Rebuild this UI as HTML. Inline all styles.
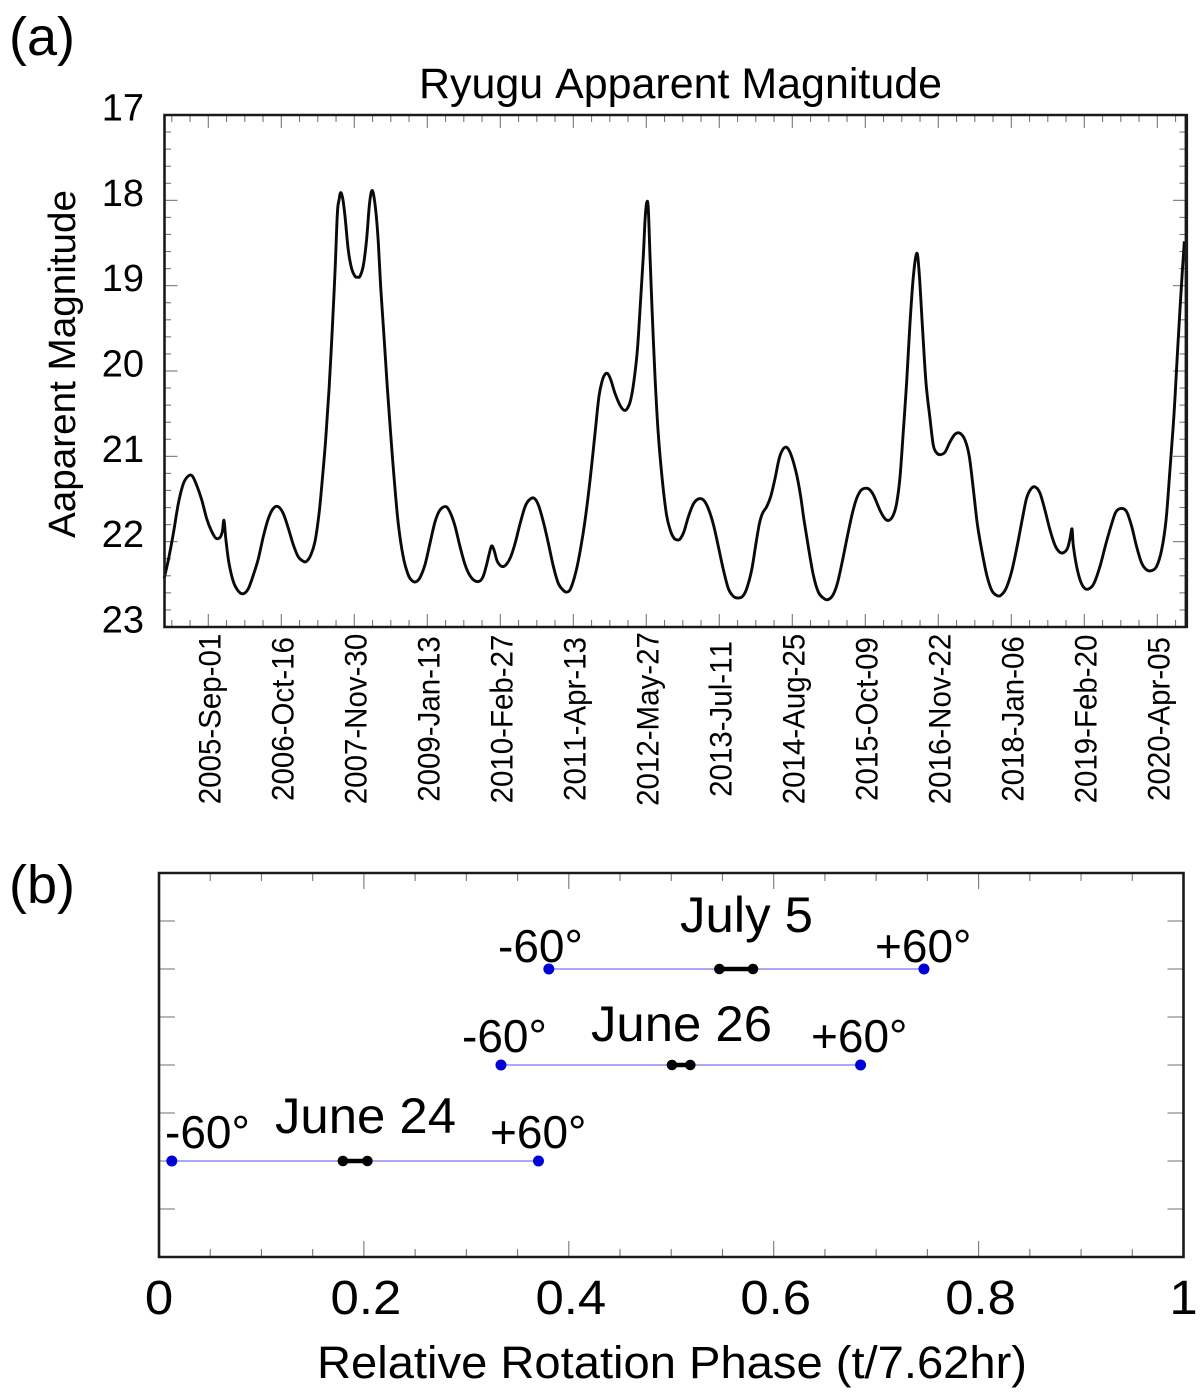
<!DOCTYPE html>
<html lang="en">
<head>
<meta charset="utf-8">
<title>Ryugu Apparent Magnitude</title>
<style>
  html, body { margin: 0; padding: 0; background: #fff; }
  body { width: 1200px; height: 1399px; overflow: hidden; }
  svg { display: block; }
  text { font-family: "Liberation Sans", Arial, sans-serif; fill: #000; font-kerning: none; }
</style>
</head>
<body>
<svg id="figure" xmlns="http://www.w3.org/2000/svg" width="1200" height="1399" viewBox="0 0 1200 1399">
  <rect x="0" y="0" width="1200" height="1399" fill="#fff"/>

  <text x="9" y="55" font-size="54">(a)</text>
  <text x="419" y="98" font-size="43" textLength="523" lengthAdjust="spacingAndGlyphs">Ryugu Apparent Magnitude</text>
  <text transform="translate(75,538) rotate(-90)" x="0" y="0" font-size="38" textLength="348" lengthAdjust="spacingAndGlyphs">Aaparent Magnitude</text>
  <g id="panel-a"></g>

  <text x="9" y="903" font-size="54">(b)</text>
  <g id="panel-b"></g>

  <text x="680" y="932" font-size="50" textLength="133" lengthAdjust="spacingAndGlyphs">July 5</text>
  <text x="591" y="1041" font-size="50" textLength="181" lengthAdjust="spacingAndGlyphs">June 26</text>
  <text x="275" y="1133" font-size="50" textLength="181" lengthAdjust="spacingAndGlyphs">June 24</text>

  <text x="498" y="962" font-size="46">-60°</text>
  <text x="875" y="962" font-size="46">+60°</text>
  <text x="462" y="1052" font-size="46">-60°</text>
  <text x="811" y="1052" font-size="46">+60°</text>
  <text x="165" y="1148" font-size="46">-60°</text>
  <text x="490" y="1148" font-size="46">+60°</text>

  <text x="317" y="1378" font-size="45" textLength="710" lengthAdjust="spacingAndGlyphs">Relative Rotation Phase (t/7.62hr)</text>
</svg>

<script>
// ---------- Panel (a) data ----------
const dateTickLabels = ["2005-Sep-01","2006-Oct-16","2007-Nov-30","2009-Jan-13","2010-Feb-27","2011-Apr-13","2012-May-27","2013-Jul-11","2014-Aug-25","2015-Oct-09","2016-Nov-22","2018-Jan-06","2019-Feb-20","2020-Apr-05"];
const magnitudeTicks = [17,18,19,20,21,22,23];
// days elapsed since 2005-Sep-01
const days = [
-248,-224,-196,-168,-140,-112,-90,-65,-37,-9,19,43,66,79,88,99,116,141,169,197,225,253,281,309,337,365,393,421,449,478,506,534,552,575,599,622,640,659,678,697,712,725,734,743,755,768,786,805,824,837,852,871,889,904,916,927,942,955,968,987,1005,1024,1043,1067,1095,1123,1146,1166,
1189,1217,1245,1273,1301,1335,1361,1386,1414,1442,1470,1498,1526,1545,1563,1578,1591,1605,1623,1648,1672,1698,1723,1751,1779,1803,1829,1854,1882,1910,1938,1966,1994,2013,2035,2065,2091,2116,2144,2172,2194,2213,2228,2243,2260,2284,2312,2335,2353,2372,2391,2410,2428,2443,2453,2462,2471,2481,2494,2509,2527,2550,2574,2597,2616,2634,
2649,2672,2696,2724,2752,2780,2808,2837,2865,2893,2921,2949,2977,3001,3024,3052,3076,3095,3112,3136,3159,3183,3207,3230,3252,3276,3305,3327,3346,3370,3398,3426,3454,3479,3507,3533,3561,3589,3617,3642,3670,3707,3735,3772,3800,3823,3847,3866,3885,3904,3922,3941,3960,3979,3993,4012,4031,4053,
4072,4091,4113,4138,4166,4194,4222,4250,4274,4297,4319,4344,4372,4400,4428,4450,4480,4512,4544,4574,4596,4621,4645,4671,4699,4727,4755,4780,4802,4825,4840,4851,4858,4877,4900,4924,4948,4974,5008,5042,5074,5098,5130,5158,5186,5214,5242,5270,5298,5326,5354,5379,5401,5424,5442,5457,5471,5482
];
const magnitudes = [
22.43,22.21,21.90,21.55,21.32,21.23,21.23,21.34,21.51,21.73,21.88,21.96,21.95,21.88,21.75,21.98,22.25,22.47,22.58,22.61,22.55,22.39,22.20,21.94,21.73,21.61,21.59,21.67,21.84,22.04,22.18,22.23,22.23,22.16,22.00,21.67,21.28,20.81,20.22,19.48,18.82,18.15,18.00,17.91,17.98,18.19,18.58,18.80,18.89,18.90,18.89,18.76,18.46,18.07,17.90,17.92,18.15,18.50,19.01,19.60,20.18,20.73,21.24,21.79,22.18,22.39,22.46,22.47,
22.42,22.27,22.02,21.77,21.63,21.59,21.67,21.82,22.06,22.27,22.40,22.46,22.46,22.40,22.27,22.14,22.05,22.10,22.23,22.29,22.27,22.18,22.02,21.79,21.59,21.51,21.49,21.57,21.77,22.02,22.29,22.49,22.57,22.59,22.55,22.35,22.08,21.75,21.28,20.73,20.30,20.11,20.04,20.03,20.10,20.26,20.40,20.46,20.44,20.34,20.11,19.75,19.17,18.66,18.23,18.03,18.09,18.66,19.36,20.07,20.73,21.28,21.69,21.88,21.96,21.98,
21.97,21.88,21.71,21.56,21.50,21.51,21.61,21.80,22.06,22.33,22.55,22.64,22.66,22.64,22.55,22.33,22.02,21.79,21.67,21.59,21.47,21.26,21.02,20.91,20.90,21.00,21.22,21.47,21.75,22.06,22.39,22.59,22.66,22.68,22.63,22.49,22.23,21.94,21.67,21.49,21.39,21.38,21.45,21.63,21.73,21.75,21.69,21.55,21.24,20.69,20.14,19.44,18.89,18.62,18.86,19.52,20.14,20.55,
20.87,20.96,20.98,20.95,20.83,20.74,20.73,20.81,21.00,21.39,21.79,22.10,22.39,22.57,22.63,22.63,22.55,22.35,22.04,21.71,21.49,21.38,21.36,21.43,21.63,21.86,22.04,22.12,22.13,22.08,21.96,21.85,22.04,22.29,22.47,22.55,22.55,22.49,22.29,22.02,21.79,21.65,21.61,21.65,21.82,22.06,22.25,22.33,22.34,22.29,22.10,21.75,21.16,20.50,19.83,19.29,18.82,18.48
];

// ---------- Panel (b) data ----------
const phaseTicks = [0,0.2,0.4,0.6,0.8,1];
const observationNames = ["june-24","june-26","july-5"];
const observationRows = [2,4,6];
const minus60Phase = [0.0125,0.3338,0.3805];
const plus60Phase = [0.3704,0.6848,0.7467];
const coverageStart = [0.1795,0.5007,0.547];
const coverageEnd = [0.2034,0.5186,0.5798];

// ---------- Helpers ----------
const NS = "http://www.w3.org/2000/svg";
function mk(tag, attrs, parent) {
  const el = document.createElementNS(NS, tag);
  for (const k in attrs) el.setAttribute(k, attrs[k]);
  parent.appendChild(el);
  return el;
}

// ---------- Panel (a) geometry ----------
const A = { left: 164.5, right: 1186, top: 115, bottom: 627 };
const dayStep = 410;
const xDay = d => 208.3 + d * 73.0 / dayStep;
const yMag = m => A.top + (m - 17) * (A.bottom - A.top) / 6;
const gA = document.getElementById("panel-a");
const TICK = "#777";

for (let k = -2; k <= 53; k++) {
  const px = xDay(k * dayStep / 4);
  const len = k % 4 === 0 ? 13 : 7;
  const top = mk("line", { x1: px, x2: px, y1: A.top, y2: A.top + len, stroke: TICK, "stroke-width": 1.1 }, gA);
  
  
  const bot = mk("line", { x1: px, x2: px, y1: A.bottom, y2: A.bottom - len, stroke: TICK, "stroke-width": 1.1 }, gA);
  
  
}
for (let k = 1; k < 30; k++) {
  const py = yMag(17 + k * 0.2);
  const len = k % 5 === 0 ? 13 : 6.5;
  const l = mk("line", { x1: A.left, x2: A.left + len, y1: py, y2: py, stroke: TICK, "stroke-width": 1.1 }, gA);
  
  
  const r = mk("line", { x1: A.right, x2: A.right - len, y1: py, y2: py, stroke: TICK, "stroke-width": 1.1 }, gA);
  
  
}

magnitudeTicks.forEach(m => {
  const t = mk("text", { x: 144, y: yMag(m) + 5.5, "text-anchor": "end", "font-size": 38 }, gA);
  t.textContent = String(m);
  
  
});
dateTickLabels.forEach((lab, i) => {
  const px = xDay(i * dayStep) + 12;
  const t = mk("text", { transform: "translate(" + px + ",719) rotate(-90) scale(1,1.08)", "text-anchor": "middle", "font-size": 29.5 }, gA);
  t.textContent = lab;
  
  
});

// Smooth curve through the read-off points (Catmull-Rom to Bezier)
function smoothPath(xs, ys) {
  let d = "M" + xs[0].toFixed(2) + " " + ys[0].toFixed(2);
  for (let i = 0; i < xs.length - 1; i++) {
    const p0 = Math.max(i - 1, 0), p3 = Math.min(i + 2, xs.length - 1);
    const c1x = xs[i] + (xs[i + 1] - xs[p0]) / 6, c1y = ys[i] + (ys[i + 1] - ys[p0]) / 6;
    const c2x = xs[i + 1] - (xs[p3] - xs[i]) / 6, c2y = ys[i + 1] - (ys[p3] - ys[i]) / 6;
    d += "C" + c1x.toFixed(2) + " " + c1y.toFixed(2) + " " + c2x.toFixed(2) + " " + c2y.toFixed(2) + " " + xs[i + 1].toFixed(2) + " " + ys[i + 1].toFixed(2);
  }
  return d;
}
const curve = mk("path", { d: smoothPath(days.map(xDay), magnitudes.map(yMag)), fill: "none", stroke: "#0a0a0a", "stroke-width": 2.9, "stroke-linejoin": "round" }, gA);



const frameA = mk("path", { d: "M" + A.left + " " + A.top + "H" + A.right + "V" + A.bottom + "H" + A.left + "Z", fill: "none", stroke: "#1a1a1a", "stroke-width": 2.6 }, gA);


const frameARight = mk("line", { x1: A.right + 0.4, x2: A.right + 0.4, y1: A.top - 1, y2: A.bottom + 1, stroke: "#1a1a1a", "stroke-width": 3.4 }, gA);



// ---------- Panel (b) geometry ----------
const B = { left: 159, right: 1183.5, top: 873, bottom: 1257 };
const xPhase = p => B.left + p * (B.right - B.left);
const yRow = r => B.bottom - r * (B.bottom - B.top) / 8;
const gB = document.getElementById("panel-b");

for (let k = 1; k < 20; k++) {
  const px = xPhase(k * 0.05);
  const len = k % 4 === 0 ? 16 : 8;
  const top = mk("line", { x1: px, x2: px, y1: B.top, y2: B.top + len, stroke: TICK, "stroke-width": 1.1 }, gB);
  
  
  const bot = mk("line", { x1: px, x2: px, y1: B.bottom, y2: B.bottom - len, stroke: TICK, "stroke-width": 1.1 }, gB);
  
  
}
for (let r = 1; r < 8; r++) {
  const py = yRow(r);
  const l = mk("line", { x1: B.left, x2: B.left + 16, y1: py, y2: py, stroke: "#888", "stroke-width": 1.2 }, gB);
  
  
  const rr = mk("line", { x1: B.right, x2: B.right - 16, y1: py, y2: py, stroke: "#888", "stroke-width": 1.2 }, gB);
  
  
}
phaseTicks.forEach(p => {
  const shift = Number.isInteger(p) ? 0 : 2;
  const t = mk("text", { transform: "translate(" + (xPhase(p) + shift) + ",1314) scale(1.06,1)", "text-anchor": "middle", "font-size": 48 }, gB);
  t.textContent = String(p);
  
  
});

observationRows.forEach((row, i) => {
  const py = yRow(row);
  const span = mk("line", { x1: xPhase(minus60Phase[i]), x2: xPhase(plus60Phase[i]), y1: py, y2: py, stroke: "#8c8cf0", "stroke-width": 1.5 }, gB);
  
  
  const cover = mk("line", { x1: xPhase(coverageStart[i]), x2: xPhase(coverageEnd[i]), y1: py, y2: py, stroke: "#000", "stroke-width": 4.4 }, gB);
  
  
  [coverageStart[i], coverageEnd[i]].forEach(p => {
    const c = mk("circle", { cx: xPhase(p), cy: py, r: 5.3, fill: "#000" }, gB);
    
    
  });
  [minus60Phase[i], plus60Phase[i]].forEach(p => {
    const c = mk("circle", { cx: xPhase(p), cy: py, r: 5.5, fill: "#0000d8" }, gB);
    
    
  });
});

const frameB = mk("path", { d: "M" + B.left + " " + B.top + "H" + B.right + "V" + B.bottom + "H" + B.left + "Z", fill: "none", stroke: "#1a1a1a", "stroke-width": 2.6 }, gB);


</script>
</body>
</html>
